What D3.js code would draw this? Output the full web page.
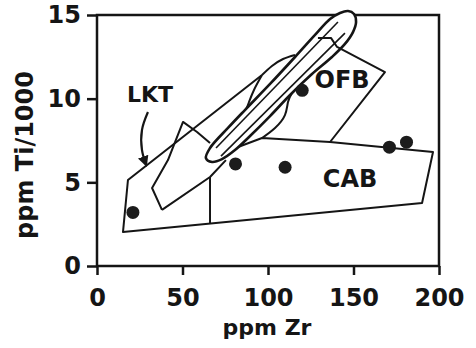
<!DOCTYPE html>
<html>
  <head>
    <style>
      body {
        margin: 0;
        background: #fff;
      }
      svg text {
        font-family: "DejaVu Sans", sans-serif;
        font-weight: bold;
        fill: #151515;
      }
    </style>
    <script src="https://d3js.org/d3.v7.min.js"></script>
  </head>
  <body>
    <script>
      const width = 476;
      const height = 348;
      const ink = "#151515";

      // tick labels
      const xTicks = [0, 50, 100, 150, 200];
      const yTicks = [0, 5, 10, 15];

      // sample points (Zr ppm, Ti/1000 ppm)
      const samples = [
        [21, 3.2],
        [81, 6.1],
        [110, 5.9],
        [120, 10.5],
        [171, 7.1],
        [181, 7.4],
      ];

      // field boundaries in data units
      const outerLine = [
        [96.5, 11.41], [18.1, 5.14], [15.2, 2.03], [190.1, 3.77],
        [196.5, 6.81], [136.3, 7.41], [96.5, 7.65], [82.5, 7.11],
      ];
      const lktCabLine = [[38.0, 3.35], [66.1, 5.32], [75.4, 6.33]];
      const divider = [[66.1, 2.55], [66.1, 5.32]];
      const lktField = [
        [38.0, 3.35], [32.2, 4.66], [41.5, 6.33], [50.3, 8.61],
        [58.5, 8.01], [66.1, 7.35],
      ];
      const ofbLine = [
        [129.2, 13.63], [136.8, 13.63], [140.4, 13.09], [168.4, 11.59], [136.3, 7.41],
      ];
      const upperOuter = [[96.5, 11.41], [102.3, 11.95], [108.8, 12.37], [115.8, 12.61]];
      const upperInner = [[96.5, 11.41], [91.8, 10.52], [88.9, 9.8], [87.1, 9.32]];
      const lowerLens = [
        [114.0, 10.34], [111.7, 9.8], [109.9, 9.02], [104.1, 8.25], [96.5, 7.65],
      ];
      const band = [
        [63.7, 6.45], [66.1, 7.05], [76.6, 8.25], [86.5, 9.32], [101.2, 10.88],
        [115.8, 12.49], [127.5, 13.81], [136.3, 14.76], [142.1, 15.12],
        [146.8, 15.24], [150.3, 15.06], [151.5, 14.58], [149.7, 13.98],
        [145.0, 13.27], [137.4, 12.49], [125.7, 11.47], [112.9, 10.22],
        [101.2, 8.96], [89.5, 7.77], [80.7, 6.93], [73.1, 6.39], [67.3, 6.22],
      ];
      const hatches = [
        [[69.6, 7.05], [140.9, 14.58]],
        [[72.5, 6.57], [145.0, 13.92]],
      ];
      const arrowPath = [[29.8, 9.2], [26.3, 8.13], [26.3, 6.93], [28.7, 6.04]];

      const fieldLabels = [
        { text: "LKT", x: 31, y: 9.8, size: 22 },
        { text: "OFB", x: 143.3, y: 10.64, size: 24 },
        { text: "CAB", x: 148, y: 4.72, size: 24 },
      ];

      const x = d3.scaleLinear().domain([0, 200]).range([97, 439]);
      const y = d3.scaleLinear().domain([0, 15]).range([266, 15]);

      const svg = d3
        .select("body")
        .append("svg")
        .attr("width", width)
        .attr("height", height);

      const line = d3.line().x((d) => x(d[0])).y((d) => y(d[1]));
      const smooth = d3.line().x((d) => x(d[0])).y((d) => y(d[1])).curve(d3.curveNatural);
      const closed = d3
        .line()
        .x((d) => x(d[0]))
        .y((d) => y(d[1]))
        .curve(d3.curveCatmullRomClosed.alpha(0.5));

      svg
        .append("defs")
        .append("marker")
        .attr("id", "head")
        .attr("viewBox", "0 0 10 10")
        .attr("refX", 8)
        .attr("refY", 5)
        .attr("markerWidth", 5)
        .attr("markerHeight", 5)
        .attr("orient", "auto")
        .append("path")
        .attr("d", "M0,0L10,5L0,10Z")
        .attr("fill", ink);

      // frame
      svg
        .append("rect")
        .attr("x", x(0))
        .attr("y", y(15))
        .attr("width", x(200) - x(0))
        .attr("height", y(0) - y(15))
        .attr("fill", "none")
        .attr("stroke", ink)
        .attr("stroke-width", 2.5);

      const xAxis = svg
        .append("g")
        .attr("transform", "translate(0," + y(0) + ")")
        .call(d3.axisBottom(x).tickValues(xTicks).tickSize(9).tickSizeOuter(0).tickPadding(14));
      const yAxis = svg
        .append("g")
        .attr("transform", "translate(" + x(0) + ",0)")
        .call(d3.axisLeft(y).tickValues(yTicks).tickSize(10).tickSizeOuter(0).tickPadding(6));

      [xAxis, yAxis].forEach((g) => {
        g.select(".domain").remove();
        g.selectAll("line").attr("stroke", ink).attr("stroke-width", 2.5);
        g.selectAll("text")
          .style("font-family", '"DejaVu Sans", sans-serif')
          .style("font-weight", "bold")
          .style("font-size", "24px")
          .attr("fill", ink);
      });

      const g = svg
        .append("g")
        .attr("fill", "none")
        .attr("stroke", ink)
        .attr("stroke-width", 2)
        .attr("stroke-linejoin", "round");

      [outerLine, lktCabLine, divider, lktField].forEach((d) => {
        g.append("path").attr("d", line(d));
      });
      [upperOuter, upperInner, lowerLens].forEach((d) => {
        g.append("path").attr("d", smooth(d));
      });

      // hatched band
      g.append("path").attr("d", closed(band)).attr("fill", "#fff").attr("stroke-width", 2.6);
      hatches.forEach((d) => {
        g.append("path").attr("d", line(d)).attr("stroke-width", 1.6);
      });
      g.append("path").attr("d", line(ofbLine));

      g.append("path")
        .attr("d", smooth(arrowPath))
        .attr("stroke-width", 2.2)
        .attr("marker-end", "url(#head)");

      svg
        .selectAll(".dot")
        .data(samples)
        .enter()
        .append("circle")
        .attr("class", "dot")
        .attr("cx", (d) => x(d[0]))
        .attr("cy", (d) => y(d[1]))
        .attr("r", 6.5)
        .attr("fill", "#1c1c1c");

      svg
        .selectAll(".field")
        .data(fieldLabels)
        .enter()
        .append("text")
        .attr("class", "field")
        .attr("x", (d) => x(d.x))
        .attr("y", (d) => y(d.y))
        .attr("text-anchor", "middle")
        .style("font-size", (d) => d.size + "px")
        .text((d) => d.text);

      svg
        .append("text")
        .attr("x", 267)
        .attr("y", 335)
        .attr("text-anchor", "middle")
        .style("font-size", "22px")
        .text("ppm Zr");

      svg
        .append("text")
        .attr("transform", "translate(33,155) rotate(-90)")
        .attr("text-anchor", "middle")
        .style("font-size", "24px")
        .text("ppm Ti/1000");
    </script>
  </body>
</html>
